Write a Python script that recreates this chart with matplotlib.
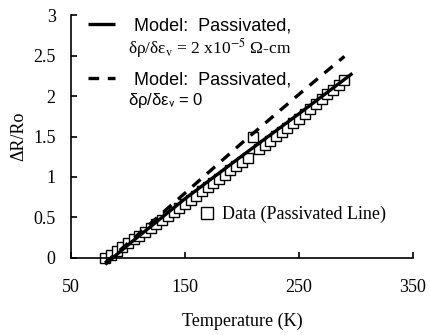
import matplotlib
matplotlib.use("Agg")
import matplotlib.pyplot as plt

plt.rcParams['font.family'] = ['Liberation Serif', 'DejaVu Serif']

# measured data (passivated line)
temp_data = [80, 85, 90, 95, 100, 105, 110, 115, 120, 125, 130, 135, 140, 145,
             150, 155, 160, 165, 170, 175, 180, 185, 190, 195, 200, 205, 210,
             215, 220, 225, 230, 235, 240, 245, 250, 255, 260, 265, 270, 275,
             280, 285, 290]
dr_data = [0.00, 0.04, 0.09, 0.13, 0.18, 0.23, 0.27, 0.32, 0.37, 0.42, 0.47,
           0.52, 0.57, 0.62, 0.67, 0.72, 0.77, 0.83, 0.88, 0.93, 0.98, 1.03,
           1.09, 1.14, 1.19, 1.24, 1.50, 1.35, 1.40, 1.45, 1.51, 1.56, 1.61,
           1.67, 1.72, 1.78, 1.84, 1.90, 1.96, 2.02, 2.08, 2.14, 2.20]

# model curves
temp_model1 = [80, 100, 150, 200, 250, 297]
dr_model1 = [-0.08, 0.16, 0.73, 1.26, 1.78, 2.28]
temp_model2 = [80, 100, 150, 200, 250, 290]
dr_model2 = [-0.06, 0.18, 0.80, 1.42, 2.02, 2.49]

x_ticks = [50, 150, 250, 350]
y_ticks = [0, 0.5, 1, 1.5, 2, 2.5, 3]
y_ticklabels = ['0', '0.5', '1', '1.5', '2', '2.5', '3']

fig = plt.figure(figsize=(4.3, 3.35), dpi=100)
ax = fig.add_axes([0.165, 0.23, 0.795, 0.725])

sq, = ax.plot(temp_data, dr_data, linestyle='none', marker='s', markersize=7,
              markerfacecolor='white', markeredgecolor='black', markeredgewidth=1.0,
              clip_on=False)
l1, = ax.plot(temp_model1, dr_model1, color='black', lw=2.4, solid_capstyle='butt',
              clip_on=False)
l2, = ax.plot(temp_model2, dr_model2, color='black', lw=2.4, linestyle=(0, (3.2, 2.6)),
              clip_on=False)

ax.set_xlim(50, 350)
ax.set_ylim(0, 3)
ax.set_xticks(x_ticks)
ax.set_yticks(y_ticks)
ax.set_yticklabels(y_ticklabels)
ax.spines['top'].set_visible(False)
ax.spines['right'].set_visible(False)
for s in ['left', 'bottom']:
    ax.spines[s].set_linewidth(1.2)
ax.tick_params(axis='both', direction='in', length=4, width=1.2, labelsize=13)
ax.tick_params(axis='x', pad=15)
ax.tick_params(axis='y', pad=11)
ax.set_xlabel('Temperature (K)', fontsize=13, labelpad=12)
ax.set_ylabel('ΔR/Ro', fontsize=13, labelpad=4)

leg1 = ax.legend([l1, l2], ['Model:  Passivated,', 'Model:  Passivated,'],
                 loc='upper left', bbox_to_anchor=(0.05, 0.99), frameon=False,
                 prop={'family': 'Liberation Sans', 'size': 13},
                 handlelength=1.5, handletextpad=1.05, labelspacing=2.05,
                 borderpad=0, borderaxespad=0)
ax.add_artist(leg1)
ax.text(0.167, 0.865, 'δρ/δε$_\\mathrm{v}$ = 2 x10$^{-5}$ Ω-cm', transform=ax.transAxes,
        fontsize=12.5, va='center', ha='left', math_fontfamily='stix')
ax.text(0.167, 0.648, 'δρ/δε$_\\mathrm{v}$ = 0', transform=ax.transAxes,
        fontsize=12, va='center', ha='left', family='Liberation Sans',
        math_fontfamily='stixsans')

ax.legend([sq], ['Data (Passivated Line)'], loc='center left',
          bbox_to_anchor=(0.383, 0.178), frameon=False, prop={'size': 13},
          handlelength=0.6, handletextpad=0.5, borderpad=0, borderaxespad=0,
          markerscale=1.3)

fig.savefig('out.png', dpi=100)
